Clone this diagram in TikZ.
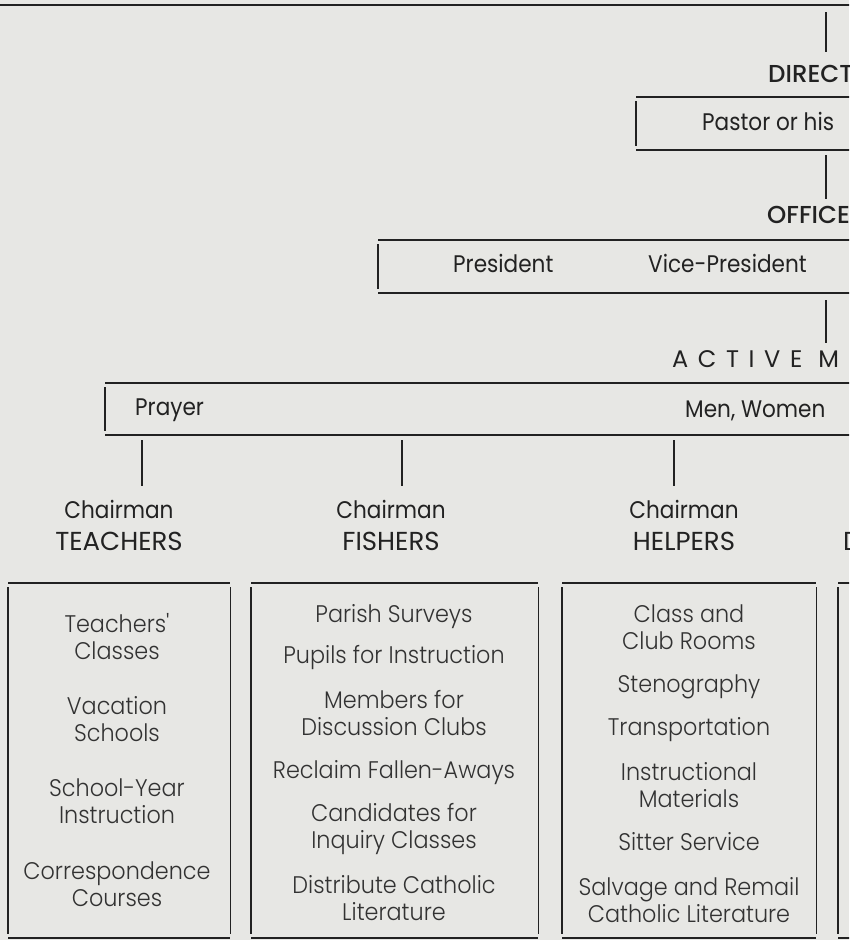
\documentclass[tikz,border=0pt]{standalone}
\usepackage{fontspec}
\setmainfont{Poppins}
\newfontfamily\itemfont{Poppins Light}[FakeStretch=0.93]
\newfontfamily\chairfont{Poppins}[FakeStretch=0.9]
\newfontfamily\boldfont{Poppins Medium}
\newfontfamily\widefont{Poppins}[LetterSpace=40]
\newcommand\groupname[1]{{\rmfamily\fontsize{26}{32}\selectfont #1}}
\usetikzlibrary{positioning}
\definecolor{paper}{RGB}{231,231,228}
\definecolor{ink}{RGB}{34,34,34}
\definecolor{print}{RGB}{50,50,50}

\begin{document}
\begin{tikzpicture}[x=1pt,y=-1pt,
    rule/.style={ink,line width=2.1pt},
    side/.style={ink,line width=1.8pt},
    boxframe/.style 2 args={anchor=north west,inner sep=0pt,minimum width=#1,minimum height=#2},
    entry/.style={ink,inner sep=0pt,anchor=base west,font=\chairfont\fontsize{24}{26}\selectfont},
    heading/.style={ink,inner sep=0pt,anchor=base west,font=\boldfont\fontsize{24.5}{26}\selectfont},
    chair/.style={ink,inner sep=0pt,anchor=base,align=center,font=\chairfont\fontsize{24}{32}\selectfont},
    item/.style={print,inner sep=0pt,anchor=base,align=center,font=\itemfont\fontsize{24}{27}\selectfont}]

  \useasboundingbox (0,0) rectangle (849,940);
  \fill[paper] (0,0) rectangle (849,940);
  \clip (0,0) rectangle (849,940);

  \coordinate (topline) at (0,5);
  \coordinate (spine) at (826,0);
  \draw[rule] (topline) -- ++(860,0);

  \node[boxframe={300pt}{53pt}] (pastor) at (636,97) {};
  \node[boxframe={560pt}{53pt}] (officers) at (378,240) {};
  \node[boxframe={800pt}{52pt}] (active) at (105,383) {};
  \node[boxframe={222pt}{355pt}] (tbox) at (8,583) {};
  \node[boxframe={287pt}{355pt}] (fbox) at (251,583) {};
  \node[boxframe={254pt}{355pt}] (hbox) at (562,583) {};
  \node[boxframe={100pt}{355pt}] (dbox) at (838,583) {};
  \foreach \b in {pastor,officers,active,tbox,fbox,hbox,dbox}{
    \draw[rule] (\b.north west) -- (\b.north east) (\b.south west) -- (\b.south east);
    \draw[side] ([yshift=-4pt]\b.north west) -- ([yshift=4pt]\b.south west)
                ([yshift=-4pt]\b.north east) -- ([yshift=4pt]\b.south east);
  }

  \node[heading] (director) at (768,82) {DIRECT};
  \node[entry] (pastorname) at (702,130) {Pastor or his};
  \node[heading] (officehead) at (767,223) {OFFICE};
  \node[entry] (president) at (453,272) {President};
  \node[entry] (vicepresident) at (648,272) {Vice-President};
  \node[ink,inner sep=0pt,anchor=base west,font=\widefont\fontsize{24}{26}\selectfont] (activehead) at (672,367) {ACTIVE M};
  \node[entry] (prayer) at (135,415) {Prayer};
  \node[entry] (menwomen) at (685,417) {Men, Women};

  \draw[side] ([yshift=-7pt]spine |- topline) -- ([yshift=13pt]spine |- director.north);
  \draw[side] ([yshift=-5pt]spine |- pastor.south) -- ([yshift=7pt]spine |- officehead.north);
  \draw[side] ([yshift=-7pt]spine |- officers.south) -- ([yshift=7pt]spine |- activehead.north);

  \node[chair] (teachers) at (119,550) {Chairman\\\groupname{TEACHERS}};
  \node[chair] (fishers) at (391,550) {Chairman\\\groupname{FISHERS}};
  \node[chair] (helpers) at (684,550) {Chairman\\\groupname{HELPERS}};
  \node[chair,anchor=base west] (fourth) at (843,550) {\groupname{D}};
  \foreach \n/\x in {teachers/142,fishers/402,helpers/674}{
    \coordinate (\n-x) at (\x,0);
    \draw[side] ([yshift=-5pt]\n-x |- active.south) -- ([yshift=14pt]\n-x |- \n.north);
  }

  \foreach \y/\txt [count=\i] in {659/{Teachers'\\Classes},741/{Vacation\\Schools},
      823/{School-Year\\Instruction},906/{Correspondence\\Courses}}
    \node[item] (teach-\i) at (117,\y) {\txt};
  \foreach \y/\txt [count=\i] in {622/{Parish Surveys},663/{Pupils for Instruction},
      735/{Members for\\Discussion Clubs},778/{Reclaim Fallen-Aways},
      848/{Candidates for\\Inquiry Classes},920/{Distribute Catholic\\Literature}}
    \node[item] (fish-\i) at (394,\y) {\txt};
  \foreach \y/\txt [count=\i] in {649/{Class and\\Club Rooms},692/{Stenography},
      735/{Transportation},807/{Instructional\\Materials},850/{Sitter Service},
      922/{Salvage and Remail\\Catholic Literature}}
    \node[item] (help-\i) at (689,\y) {\txt};
\end{tikzpicture}
\end{document}
